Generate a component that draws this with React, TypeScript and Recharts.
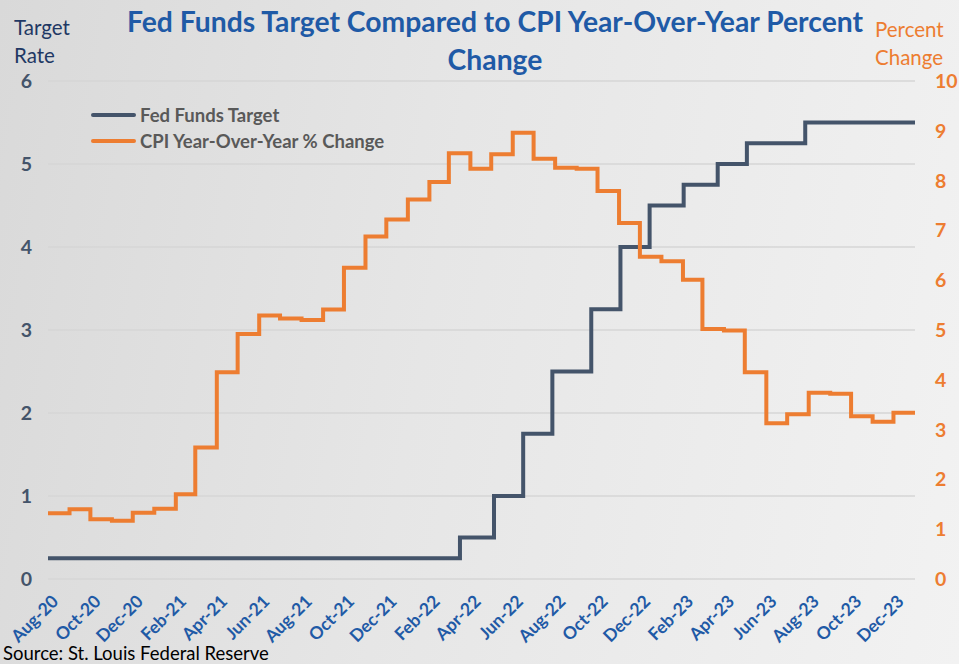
import React from "react";
import { LineChart, Line, XAxis, YAxis, CartesianGrid } from "recharts";

const monthLabels = [
  "Aug-20", "Sep-20", "Oct-20", "Nov-20", "Dec-20",
  "Jan-21", "Feb-21", "Mar-21", "Apr-21", "May-21", "Jun-21", "Jul-21", "Aug-21", "Sep-21", "Oct-21", "Nov-21", "Dec-21",
  "Jan-22", "Feb-22", "Mar-22", "Apr-22", "May-22", "Jun-22", "Jul-22", "Aug-22", "Sep-22", "Oct-22", "Nov-22", "Dec-22",
  "Jan-23", "Feb-23", "Mar-23", "Apr-23", "May-23", "Jun-23", "Jul-23", "Aug-23", "Sep-23", "Oct-23", "Nov-23", "Dec-23",
  "Jan-24",
];

const cpiYoY = [
  1.32, 1.4, 1.2, 1.17, 1.33,
  1.41, 1.7, 2.64, 4.15, 4.92, 5.29, 5.23, 5.2, 5.41, 6.25, 6.88, 7.22,
  7.62, 7.97, 8.55, 8.24, 8.53, 8.96, 8.44, 8.26, 8.24, 7.79, 7.15, 6.47,
  6.38, 6.01, 5.02, 4.99, 4.15, 3.13, 3.31, 3.74, 3.72, 3.27, 3.16, 3.34,
  3.34,
];

const fedDates = [
  "2020-08-01", "2022-03-17", "2022-05-05", "2022-06-16", "2022-07-28", "2022-09-22",
  "2022-11-03", "2022-12-15", "2023-02-02", "2023-03-23", "2023-05-04", "2023-07-27", "2024-01-01",
];
const fedTarget = [0.25, 0.5, 1.0, 1.75, 2.5, 3.25, 4.0, 4.5, 4.75, 5.0, 5.25, 5.5, 5.5];

const leftTicks = [0, 1, 2, 3, 4, 5, 6];
const rightTicks = [0, 1, 2, 3, 4, 5, 6, 7, 8, 9, 10];

const DAY = 86400000;
const START = Date.UTC(2020, 7, 1);
const dayOf = (d: string) => (Date.parse(d + "T00:00:00Z") - START) / DAY;
const monthDay = (i: number) => (Date.UTC(2020, 7 + i, 1) - START) / DAY;

const cpiData = cpiYoY.map((v, i) => ({ x: monthDay(i), cpi: v }));
const fedData = fedTarget.map((v, i) => ({ x: dayOf(fedDates[i]), fed: v }));
const xTicks = monthLabels.map((_, i) => i).filter((i) => i % 2 === 0 && i < 41).map(monthDay);
const labelOf = (x: number) => {
  const i = monthLabels.findIndex((_, k) => monthDay(k) === x);
  return i >= 0 ? monthLabels[i] : "";
};

const BLUE = "#1f5aa6";
const NAVY = "#44546a";
const ORANGE = "#ED7D31";
const FONT = "Lato, 'Open Sans', sans-serif";

const XTick = (props: any) => {
  const { x, y, payload } = props;
  return (
    <g transform={`translate(${x + 8},${y + 12})`}>
      <text
        textAnchor="end"
        transform="rotate(-45)"
        fill={BLUE}
        fontFamily={FONT}
        fontWeight={700}
        fontSize={17.5}
        dy={5}
      >
        {labelOf(payload.value)}
      </text>
    </g>
  );
};

const LeftTick = (props: any) => {
  const { x, y, payload } = props;
  return (
    <text x={x - 8} y={y} dy={7} textAnchor="end" fill={NAVY} fontFamily={FONT} fontWeight={700} fontSize={19.5}>
      {payload.value}
    </text>
  );
};

const RightTick = (props: any) => {
  const { x, y, payload } = props;
  return (
    <text x={x + 12} y={y} dy={7} textAnchor="start" fill={ORANGE} fontFamily={FONT} fontWeight={700} fontSize={19.5}>
      {payload.value}
    </text>
  );
};

const legendItems = [
  { label: "Fed Funds Target", color: NAVY },
  { label: "CPI Year-Over-Year % Change", color: ORANGE },
];

export default function App() {
  return (
    <div
      style={{
        position: "absolute",
        left: 0,
        top: 0,
        width: 959,
        height: 664,
        background: "linear-gradient(100deg, #d9d9d9 0%, #e6e6e6 45%, #f2f2f2 100%)",
        overflow: "hidden",
      }}
    >
      <div
        style={{
          position: "absolute",
          left: 0,
          width: 990,
          top: 2,
          textAlign: "center",
          fontFamily: FONT,
          fontWeight: 700,
          fontSize: 28.3,
          lineHeight: "38px",
          color: BLUE,
        }}
      >
        Fed Funds Target Compared to CPI Year-Over-Year Percent
        <br />
        Change
      </div>
      <div
        style={{
          position: "absolute",
          left: 14,
          top: 13,
          fontFamily: FONT,
          fontSize: 20.5,
          lineHeight: "28px",
          color: "#1f3864",
        }}
      >
        Target
        <br />
        Rate
      </div>
      <div
        style={{
          position: "absolute",
          left: 875,
          top: 15,
          fontFamily: FONT,
          fontSize: 20.5,
          lineHeight: "28px",
          color: ORANGE,
        }}
      >
        Percent
        <br />
        Change
      </div>
      <div
        style={{
          position: "absolute",
          left: 3,
          top: 643,
          fontFamily: FONT,
          fontSize: 18.5,
          color: "#000",
          lineHeight: "20px",
        }}
      >
        Source: St. Louis Federal Reserve
      </div>
      <div
        style={{
          position: "absolute",
          left: 91,
          top: 105,
          display: "flex",
          flexDirection: "column",
          gap: 6,
          zIndex: 2,
        }}
      >
        {legendItems.map((it) => (
          <div key={it.label} style={{ display: "flex", alignItems: "center", height: 20 }}>
            <div style={{ width: 45, height: 4, background: it.color, borderRadius: 2, marginRight: 4 }} />
            <span style={{ fontFamily: FONT, fontWeight: 700, fontSize: 18.5, color: "#595959" }}>{it.label}</span>
          </div>
        ))}
      </div>
      <LineChart width={959} height={664} margin={{ top: 81, right: 0, left: 0, bottom: 0 }}>
        <CartesianGrid yAxisId="left" vertical={false} stroke="#d6d6d6" strokeWidth={1.5} />
        <XAxis
          type="number"
          dataKey="x"
          domain={[0, monthDay(41)]}
          ticks={xTicks}
          interval={0}
          height={85}
          axisLine={false}
          tickLine={false}
          tick={<XTick />}
          allowDataOverflow
        />
        <YAxis
          yAxisId="left"
          orientation="left"
          domain={[0, 6]}
          ticks={leftTicks}
          width={48}
          axisLine={false}
          tickLine={false}
          tick={<LeftTick />}
        />
        <YAxis
          yAxisId="right"
          orientation="right"
          domain={[0, 10]}
          ticks={rightTicks}
          width={44}
          axisLine={false}
          tickLine={false}
          tick={<RightTick />}
        />
        <Line
          yAxisId="left"
          data={fedData}
          dataKey="fed"
          type="stepAfter"
          stroke={NAVY}
          strokeWidth={4}
          dot={false}
          strokeLinecap="round"
          isAnimationActive={false}
        />
        <Line
          yAxisId="right"
          data={cpiData}
          dataKey="cpi"
          type="stepAfter"
          stroke={ORANGE}
          strokeWidth={4}
          dot={false}
          strokeLinecap="round"
          isAnimationActive={false}
        />
      </LineChart>
    </div>
  );
}
